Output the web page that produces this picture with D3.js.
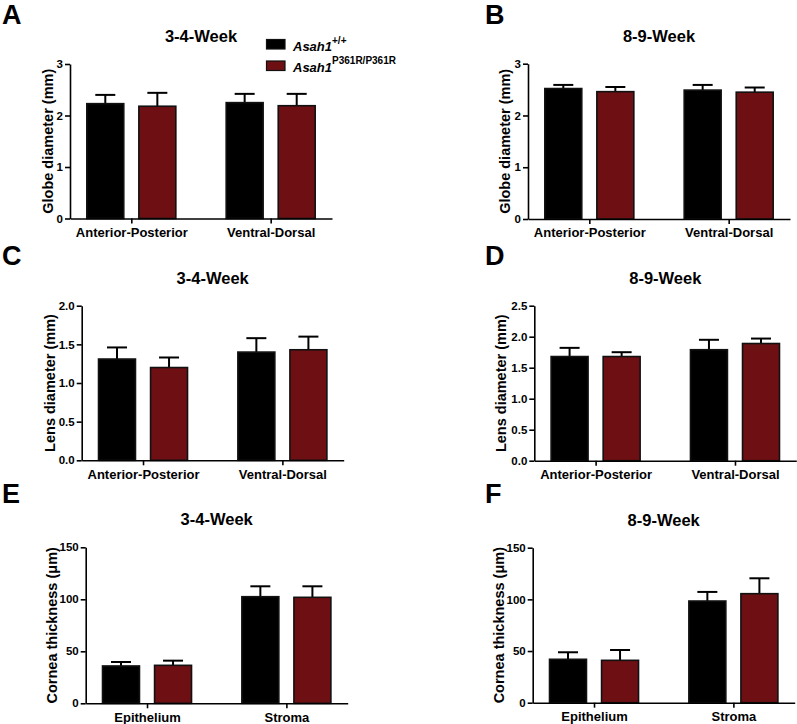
<!DOCTYPE html>
<html><head><meta charset="utf-8">
<script src="https://cdn.jsdelivr.net/npm/d3@7"></script>
<style>
body{margin:0;background:#fff}
svg{display:block}
text{font-family:"Liberation Sans",Arial,Helvetica,sans-serif;font-weight:bold;fill:#000}
</style>
</head><body>
<svg id="chart" width="797" height="724"></svg>
<script>
// ---------- data ----------
const seriesNames = ["Asah1+/+", "Asah1P361R/P361R"];
const seriesColors = ["#000000", "#6e1013"];
const diameterCategories = ["Anterior-Posterior", "Ventral-Dorsal"];
const corneaCategories = ["Epithelium", "Stroma"];

const globeTicks = [0, 1, 2, 3];
const lensTicks34 = [0, 0.5, 1.0, 1.5, 2.0];
const lensTicks89 = [0, 0.5, 1.0, 1.5, 2.0, 2.5];
const corneaTicks = [0, 50, 100, 150];

// A: globe diameter 3-4 week
const globe34WT = [2.23, 2.25];
const globe34WTErr = [0.17, 0.17];
const globe34Mut = [2.18, 2.19];
const globe34MutErr = [0.26, 0.23];
// B: globe diameter 8-9 week
const globe89WT = [2.52, 2.49];
const globe89WTErr = [0.07, 0.10];
const globe89Mut = [2.46, 2.45];
const globe89MutErr = [0.09, 0.09];
// C: lens diameter 3-4 week
const lens34WT = [1.31, 1.40];
const lens34WTErr = [0.15, 0.18];
const lens34Mut = [1.20, 1.43];
const lens34MutErr = [0.13, 0.17];
// D: lens diameter 8-9 week
const lens89WT = [1.68, 1.79];
const lens89WTErr = [0.14, 0.16];
const lens89Mut = [1.68, 1.89];
const lens89MutErr = [0.07, 0.08];
// E: cornea thickness 3-4 week
const cornea34WT = [35.9, 102.5];
const cornea34WTErr = [3.8, 10.0];
const cornea34Mut = [36.5, 101.9];
const cornea34MutErr = [4.5, 10.6];
// F: cornea thickness 8-9 week
const cornea89WT = [42.0, 98.4];
const cornea89WTErr = [6.8, 8.8];
const cornea89Mut = [41.0, 105.5];
const cornea89MutErr = [10.0, 14.9];

// ---------- panels (layout) ----------
const panels = [
  {letter:"A", lx:2,   ly:24,  title:"3-4-Week", ylabel:"Globe diameter (mm)", x0:70,  top:64,  bot:218.5, max:3,   ticks:globeTicks, fmt:d3.format("d"), cats:diameterCategories,
   vals:[globe34WT, globe34Mut], errs:[globe34WTErr, globe34MutErr], labOff:22},
  {letter:"B", lx:485, ly:24,  title:"8-9-Week", ylabel:"Globe diameter (mm)", x0:528, top:63.7,bot:219,   max:3,   ticks:globeTicks, fmt:d3.format("d"), cats:diameterCategories,
   vals:[globe89WT, globe89Mut], errs:[globe89WTErr, globe89MutErr], labOff:23},
  {letter:"C", lx:2,   ly:265, title:"3-4-Week", ylabel:"Lens diameter (mm)", x0:81.7, top:305.7,bot:460.3, max:2,   ticks:lensTicks34, fmt:d3.format(".1f"), cats:diameterCategories,
   vals:[lens34WT, lens34Mut], errs:[lens34WTErr, lens34MutErr], labOff:32},
  {letter:"D", lx:485, ly:265, title:"8-9-Week", ylabel:"Lens diameter (mm)", x0:534.3,top:305.7,bot:460.7, max:2.5, ticks:lensTicks89, fmt:d3.format(".1f"), cats:diameterCategories,
   vals:[lens89WT, lens89Mut], errs:[lens89WTErr, lens89MutErr], labOff:33},
  {letter:"E", lx:2,   ly:503, title:"3-4-Week", ylabel:"Cornea thickness (\u03bcm)", x0:85.7, top:547.3,bot:703.3, max:150, ticks:corneaTicks, fmt:d3.format("d"), cats:corneaCategories,
   vals:[cornea34WT, cornea34Mut], errs:[cornea34WTErr, cornea34MutErr], labOff:34},
  {letter:"F", lx:485, ly:503, title:"8-9-Week", ylabel:"Cornea thickness (\u03bcm)", x0:532.7,top:547.7,bot:702.7, max:150, ticks:corneaTicks, fmt:d3.format("d"), cats:corneaCategories,
   vals:[cornea89WT, cornea89Mut], errs:[cornea89WTErr, cornea89MutErr], labOff:34}
];

const svg = d3.select("#chart");
const axisLen = 262;

panels.forEach(p => {
  const g = svg.append("g");
  const y = d3.scaleLinear().domain([0, p.max]).range([p.bot, p.top]);
  const x = d3.scalePoint().domain(p.cats).range([p.x0, p.x0 + axisLen]).padding(0.44);
  const xs = d3.scaleBand().domain(seriesNames).range([-44.5, 44.5]).paddingInner(0.29).paddingOuter(0);

  // panel letter
  g.append("text").attr("x", p.lx).attr("y", p.ly).attr("font-size", 27).text(p.letter);
  // title
  g.append("text").attr("x", p.x0 + axisLen/2).attr("y", p.top - 22).attr("text-anchor", "middle")
    .attr("font-size", 16.5).text(p.title);
  // y label
  const lx = p.x0 - p.labOff, ly = (p.top + p.bot)/2;
  g.append("text").attr("transform", `translate(${lx},${ly}) rotate(-90)`).attr("dy", "0.35em")
    .attr("text-anchor", "middle").attr("font-size", 14.5).text(p.ylabel);

  // bars
  seriesNames.forEach((s, si) => {
    const bars = p.cats.map((c, ci) => ({c, v: p.vals[si][ci], e: p.errs[si][ci]}));
    const sg = g.append("g");
    // error bars (upper only)
    sg.selectAll("line.eb").data(bars).enter().append("line")
      .attr("x1", d => x(d.c) + xs(s) + xs.bandwidth()/2)
      .attr("x2", d => x(d.c) + xs(s) + xs.bandwidth()/2)
      .attr("y1", d => y(d.v)).attr("y2", d => y(d.v + d.e))
      .attr("stroke", "#000").attr("stroke-width", 2);
    sg.selectAll("line.cap").data(bars).enter().append("line")
      .attr("x1", d => x(d.c) + xs(s) + xs.bandwidth()/2 - 10)
      .attr("x2", d => x(d.c) + xs(s) + xs.bandwidth()/2 + 10)
      .attr("y1", d => y(d.v + d.e)).attr("y2", d => y(d.v + d.e))
      .attr("stroke", "#000").attr("stroke-width", 2);
    sg.selectAll("rect").data(bars).enter().append("rect")
      .attr("x", d => x(d.c) + xs(s))
      .attr("width", xs.bandwidth())
      .attr("y", d => y(d.v))
      .attr("height", d => y(0) - y(d.v))
      .attr("fill", seriesColors[si])
      .attr("stroke", "#111").attr("stroke-width", 1.6);
  });

  // axes
  const ya = g.append("g").attr("transform", `translate(${p.x0},0)`)
    .call(d3.axisLeft(y).tickValues(p.ticks).tickFormat(p.fmt).tickSize(5).tickSizeOuter(0).tickPadding(2));
  ya.selectAll("text").attr("font-size", 11.5).attr("font-family", null);
  const xa = g.append("g").attr("transform", `translate(0,${p.bot})`)
    .call(d3.axisBottom(x).tickSize(5).tickSizeOuter(0).tickPadding(4));
  xa.selectAll("text").attr("font-size", 13).attr("font-family", null);
  [ya, xa].forEach(a => {
    a.select(".domain").attr("stroke", "#000").attr("stroke-width", 1.6);
    a.selectAll(".tick line").attr("stroke", "#000").attr("stroke-width", 1.6);
    a.selectAll("text").attr("fill", "#000").style("font-weight", "bold");
  });
});

// legend
const leg = svg.append("g");
const legRows = [{y: 39.5, base: 51}, {y: 61, base: 71.7}];
const supers = ["+/+", "P361R/P361R"];
seriesNames.forEach((s, i) => {
  leg.append("rect").attr("x", 266.5).attr("y", legRows[i].y).attr("width", 18.5).attr("height", 9.5)
    .attr("fill", seriesColors[i]).attr("stroke", "#111").attr("stroke-width", 1.2);
  const t = leg.append("text").attr("x", 293).attr("y", legRows[i].base).attr("font-size", 13);
  t.append("tspan").attr("font-style", "italic").text("Asah1");
  t.append("tspan").attr("font-size", 10).attr("dy", -7.5).text(supers[i]);
});
</script>
</body></html>
